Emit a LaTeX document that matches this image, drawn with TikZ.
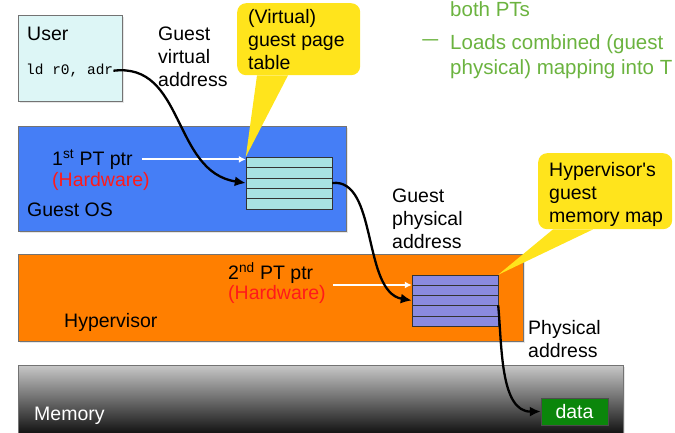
\documentclass[tikz,border=0pt]{standalone}
\usepackage{fontspec}
\newfontfamily\plainsans{Liberation Sans}
\setmonofont{Liberation Mono}
\usetikzlibrary{arrows.meta,calc,shadows}
\definecolor{userfill}{HTML}{DDF6F6}
\definecolor{osblue}{HTML}{457EF6}
\definecolor{hvorange}{HTML}{FF7F00}
\definecolor{gptfill}{HTML}{A8E2E2}
\definecolor{hptfill}{HTML}{8A8AE0}
\definecolor{noteyellow}{HTML}{FFE41C}
\definecolor{hwred}{HTML}{FF1A1A}
\definecolor{bulletgreen}{HTML}{6BB33F}
\definecolor{datagreen}{HTML}{0B860B}
\tikzset{
  layer/.style={rectangle, draw=black!55, thin, anchor=north west, inner sep=0pt,
    drop shadow={opacity=0.2, shadow xshift=2pt, shadow yshift=-2pt}},
  txt/.style={anchor=north west, inner sep=0pt, align=left},
  note/.style={rectangle, rounded corners=9pt, fill=noteyellow, anchor=north west, inner sep=0pt},
  ptrow/.style={rectangle, draw=black!80, thin, minimum width=86pt, minimum height=10.3pt, inner sep=0pt},
  walk/.style={draw=black, line width=2.3pt, -{Latex[length=11pt,width=10pt]}},
  ptrarrow/.style={draw=white, line width=2pt, -{Latex[length=7pt,width=7pt]}}
}
\begin{document}
\begin{tikzpicture}[x=1pt, y=-1pt, font=\plainsans\fontsize{19.5}{23}\selectfont]
\useasboundingbox (0,0) rectangle (675,433);
% layers
\node[layer, fill=userfill, minimum width=104pt, minimum height=86pt] (user) at (18,15) {};
\node[layer, fill=osblue, minimum width=328pt, minimum height=105pt] (guestos) at (18,126) {};
\node[layer, fill=hvorange, minimum width=505pt, minimum height=87pt] (hyper) at (18,254) {};
\node[layer, top color=black!22, bottom color=black, minimum width=605pt, minimum height=75pt] (memory) at (18,365) {};
% page tables
\foreach \i in {1,...,5} {
  \node[ptrow, fill=gptfill] (gpt\i) at (289,{157+10.4*(\i-0.5)}) {};
  \node[ptrow, fill=hptfill] (hpt\i) at (455,{275+10.2*(\i-0.5)}) {};
}
\node[rectangle, draw=black!70, fill=datagreen, minimum width=67pt, minimum height=27pt,
  inner sep=0pt, text=white] (data) at (574.5,411.5) {data};
% callouts
\node[note, minimum width=123pt, minimum height=72pt] (vnote) at (237,3) {};
\fill[noteyellow] ($(vnote.south west)+(20,0)$) -- (gpt1.north west) -- ($(vnote.south west)+(51,0)$) -- cycle;
\node[txt] at (248,9) {(Virtual)\\guest page\\table};
\node[note, minimum width=134pt, minimum height=76pt] (hnote) at (538,153) {};
\fill[noteyellow] ($(hnote.south west)+(15,0)$) -- (hpt1.north east) -- ($(hnote.south west)+(55,0)$) -- cycle;
\node[txt] at (549,162) {Hypervisor's\\guest\\memory map};
% texts
\node[txt] (usertxt) at (27,27) {User};
\node[txt, font=\fontsize{14.5}{16}\ttfamily] (ldtxt) at (26,64) {ld r0, adr};
\node[txt] (gva) at (158,27) {Guest\\virtual\\address};
\node[txt] (ptr1) at (52,149) {1\textsuperscript{st} PT ptr};
\node[txt, text=hwred] (hw1) at (52,172) {(Hardware)};
\node[txt] (ostxt) at (27,203) {Guest OS};
\node[txt] (gpa) at (392,189) {Guest\\physical\\address};
\node[txt] (ptr2) at (228,262) {2\textsuperscript{nd} PT ptr};
\node[txt, text=hwred] (hw2) at (228,285) {(Hardware)};
\node[txt] (hvtxt) at (64,313) {Hypervisor};
\node[txt] (pa) at (528,320) {Physical\\address};
\node[txt, text=white] (memtxt) at (34,407) {Memory};
\begin{scope}[every node/.style={txt, text=bulletgreen, font=\plainsans\fontsize{20.5}{25}\selectfont}]
  \node (both) at (450,1) {both PTs};
  \node[anchor=west, xscale=1.4] (dash) at (422,43) {–};
  \node (loads) at (450,34) {Loads combined (guest\\physical) mapping into T};
\end{scope}
% connectors
\draw[ptrarrow] ([xshift=9pt]ptr1.east) -- (ptr1.east -| gpt1.west);
\draw[ptrarrow] ($(hw2.north east)+(7,0)$) -- (hw2.north east -| hpt1.west);
\draw[walk] (ldtxt.east) .. controls (185,62) and (172,172) .. (gpt3.west);
\draw[walk] (gpt3.east) .. controls (378,178) and (362,292) .. (hpt3.west);
\draw[walk] (hpt4.north east) .. controls (502,345) and (500,412) .. (data.west);
\end{tikzpicture}
\end{document}
